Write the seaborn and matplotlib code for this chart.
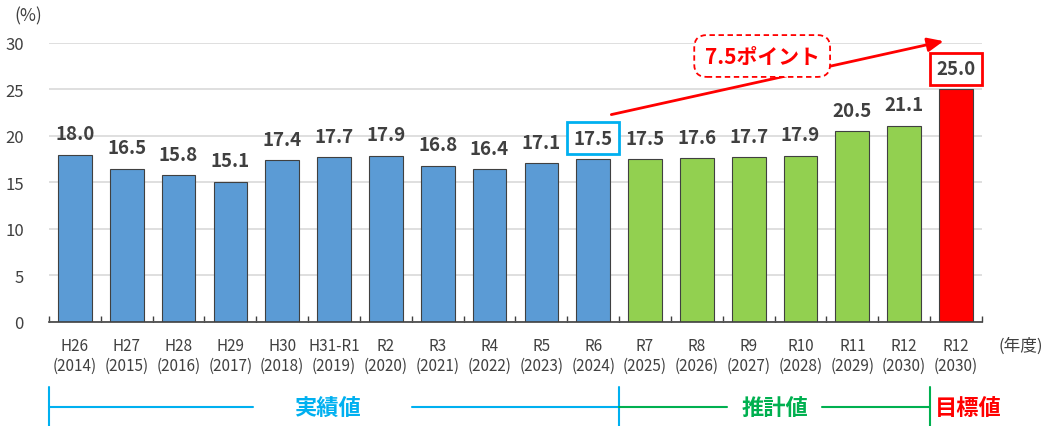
import pandas as pd
import matplotlib.pyplot as plt
import matplotlib.transforms as mtransforms
import seaborn as sns

# Data
eras = ["H26", "H27", "H28", "H29", "H30", "H31-R1", "R2", "R3", "R4", "R5", "R6",
        "R7", "R8", "R9", "R10", "R11", "R12", "R12"]
years = ["(2014)", "(2015)", "(2016)", "(2017)", "(2018)", "(2019)", "(2020)",
         "(2021)", "(2022)", "(2023)", "(2024)", "(2025)", "(2026)", "(2027)",
         "(2028)", "(2029)", "(2030)", "(2030)"]
values = [18.0, 16.5, 15.8, 15.1, 17.4, 17.7, 17.9, 16.8, 16.4, 17.1, 17.5,
          17.5, 17.6, 17.7, 17.9, 20.5, 21.1, 25.0]
groups = ["実績値"] * 11 + ["推計値"] * 6 + ["目標値"]

palette = {"実績値": "#5B9BD5", "推計値": "#92D050", "目標値": "#FF0000"}
group_colors = {"実績値": "#00B0F0", "推計値": "#00B050", "目標値": "#FF0000"}

df = pd.DataFrame({"pos": range(len(values)), "value": values, "group": groups})

sns.set_theme(style="white")
plt.rcParams["font.family"] = ["Noto Sans CJK JP", "DejaVu Sans"]

fig = plt.figure(figsize=(10.53, 4.27), dpi=100)
ax = fig.add_axes([0.0465, 0.2436, 0.886, 0.6534])

sns.barplot(data=df, x="pos", y="value", hue="group", palette=palette,
            saturation=1, dodge=False, width=0.65, edgecolor="#404040",
            linewidth=0.8, legend=False, ax=ax)

ax.set_xlim(-0.5, len(values) - 0.5)
ax.set_ylim(0, 30)
ax.set_yticks(range(0, 31, 5))
ax.yaxis.grid(True, color="#D9D9D9", linewidth=1.2)
ax.set_axisbelow(True)
for s in ["left", "right", "top"]:
    ax.spines[s].set_visible(False)
ax.spines["bottom"].set_color("#404040")
ax.spines["bottom"].set_linewidth(1.2)

ax.set_xticks(range(len(values)))
ax.set_xticklabels([f"{e}\n{y}" for e, y in zip(eras, years)],
                   fontsize=11, color="#404040", linespacing=1.2)
ax.set_xticks([i - 0.5 for i in range(len(values) + 1)], minor=True)
ax.tick_params(axis="x", which="major", length=0, pad=11)
ax.tick_params(axis="x", which="minor", direction="in", length=4,
               width=1, color="#404040", bottom=True)
ax.tick_params(axis="y", length=0, pad=18, labelsize=12, labelcolor="#404040")
ax.set_xlabel("")
ax.set_ylabel("")

# value labels
for i, v in enumerate(values):
    bbox = None
    if i == 10:
        bbox = dict(boxstyle="square,pad=0.35", fc="white", ec="#00B0F0", lw=2)
    elif i == len(values) - 1:
        bbox = dict(boxstyle="square,pad=0.35", fc="white", ec="#FF0000", lw=2)
    ax.annotate(f"{v:.1f}", (i, v), xytext=(0, 15), textcoords="offset points",
                ha="center", va="center", fontsize=13.5, fontweight="bold",
                color="#404040", bbox=bbox, zorder=5)

# arrow from current to target
ax.annotate("", xy=(16.76, 30.2), xytext=(10.35, 22.3),
            arrowprops=dict(arrowstyle="-|>,head_length=0.8,head_width=0.35",
                            color="#FF0000", lw=2, shrinkA=0, shrinkB=0),
            annotation_clip=False, zorder=4)
ax.text(13.26, 28.6, "7.5ポイント", ha="center", va="center", fontsize=15,
        fontweight="bold", color="#FF0000", zorder=6,
        bbox=dict(boxstyle="round,pad=0.5,rounding_size=0.6", fc="white",
                  ec="#FF0000", lw=1.3, ls=(0, (3, 2))))

# unit labels
fig.text(0.014, 0.962, "(%)", fontsize=12.5, color="#404040", va="center")
fig.text(0.948, 0.19, "(年度)", fontsize=12, color="#404040", va="center")

# bottom brackets
tr = mtransforms.blended_transform_factory(ax.transData, ax.transAxes)
yl, ytop, ybot = -0.305, -0.233, -0.38
line_kw = dict(transform=tr, clip_on=False, lw=1.5)
ax.plot([-0.5, -0.5], [ytop, ybot], color=group_colors["実績値"], **line_kw)
ax.plot([-0.5, 3.43], [yl, yl], color=group_colors["実績値"], **line_kw)
ax.plot([6.51, 10.5], [yl, yl], color=group_colors["実績値"], **line_kw)
ax.plot([10.5, 10.5], [ytop, ybot], color=group_colors["実績値"], **line_kw)
ax.plot([10.5, 12.58], [yl, yl], color=group_colors["推計値"], **line_kw)
ax.plot([14.41, 16.5], [yl, yl], color=group_colors["推計値"], **line_kw)
ax.plot([16.5, 16.5], [ytop, ybot], color=group_colors["推計値"], **line_kw)
ax.text(4.88, yl, "実績値", transform=tr, ha="center", va="center",
        fontsize=16, fontweight="bold", color=group_colors["実績値"])
ax.text(13.5, yl, "推計値", transform=tr, ha="center", va="center",
        fontsize=16, fontweight="bold", color=group_colors["推計値"])
ax.text(16.6, yl, "目標値", transform=tr, ha="left", va="center",
        fontsize=16, fontweight="bold", color=group_colors["目標値"])

plt.savefig("out.png", dpi=100)
plt.close()
